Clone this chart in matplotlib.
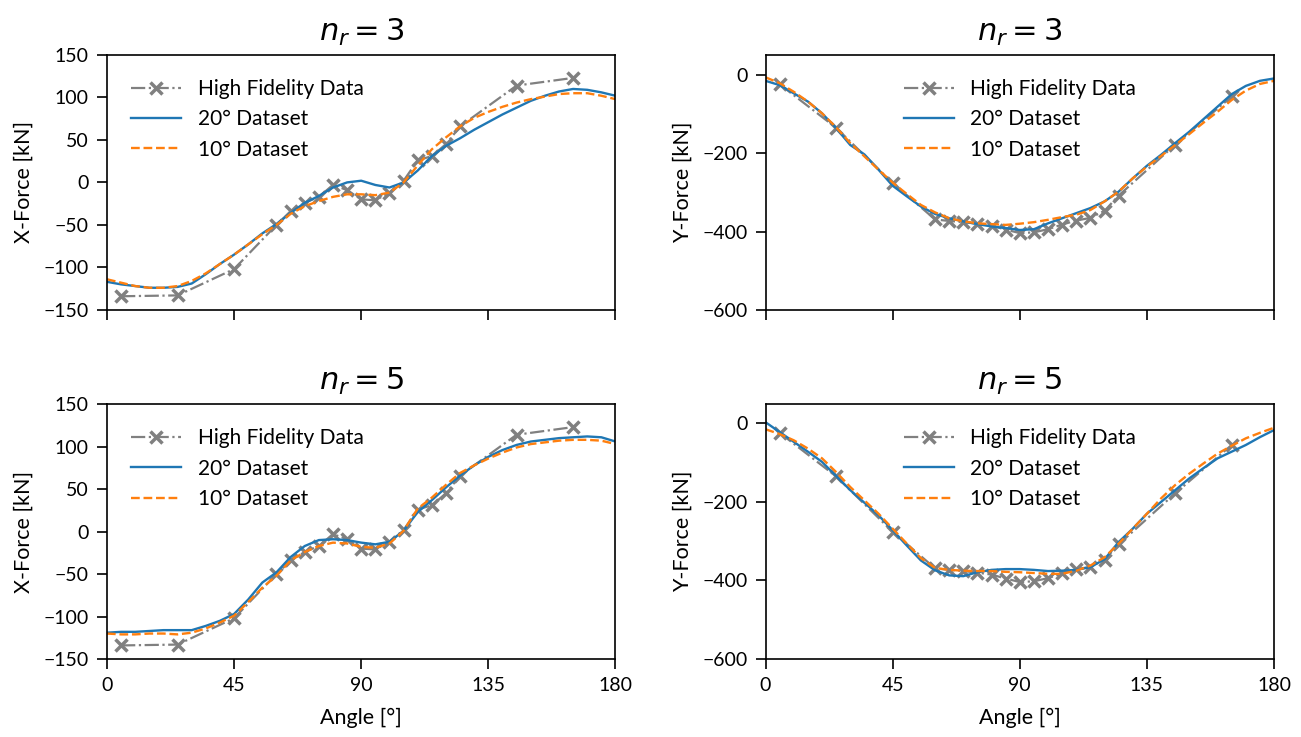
import numpy as np
import matplotlib
matplotlib.use("Agg")
import matplotlib.pyplot as plt

plt.rcParams['font.family'] = ['Lato', 'DejaVu Sans']
plt.rcParams['mathtext.fontset'] = 'dejavusans'

# High fidelity sample angles and values
hf_angle = [5, 25, 45, 60, 65, 70, 75, 80, 85, 90, 95, 100, 105, 110, 115, 120, 125, 145, 165]
hf_x = [-134, -133, -102, -50, -34, -24, -17, -3, -9, -20, -21, -12, 2, 26, 31, 45, 66, 114, 123]
hf_y = [-24, -135, -276, -369, -373, -376, -380, -385, -395, -404, -402, -394, -382, -372, -365, -347, -308, -178, -55]

# Model curve angles (every 5 degrees)
ang = list(range(0, 181, 5))

# n_r = 3
x3_20 = [-117, -120, -122, -124, -124, -123, -119, -108, -96, -85, -73, -60, -49, -36, -24, -16,
         -6, 0, 2, -3, -6, 0, 14, 31, 43, 52, 62, 71, 80, 88, 96, 102, 107, 110, 109, 106, 102]
x3_10 = [-114, -118, -122, -124, -124, -122, -116, -107, -96, -85, -73, -61, -50, -37, -28, -22,
         -17, -14, -14, -15, -12, 0, 20, 39, 53, 66, 76, 83, 89, 94, 98, 101, 104, 105, 105, 102, 98]
y3_20 = [-15, -26, -47, -68, -98, -136, -179, -203, -242, -283, -310, -336, -355, -366, -374,
         -381, -387, -391, -396, -394, -379, -366, -353, -340, -323, -298, -264, -232, -204,
         -174, -145, -113, -81, -49, -28, -15, -9]
y3_10 = [-6, -21, -43, -68, -98, -134, -174, -208, -242, -275, -304, -332, -351, -366, -374, -379,
         -381, -383, -380, -376, -370, -363, -357, -345, -323, -298, -264, -234, -207, -179, -151,
         -122, -94, -64, -40, -23, -15]

# n_r = 5
x5_20 = [-119, -118, -118, -117, -116, -116, -116, -111, -105, -97, -80, -60, -48, -30, -17, -10,
         -9, -10, -13, -15, -12, 1, 23, 37, 52, 66, 78, 88, 96, 102, 106, 108, 110, 111, 112, 111,
         106]
x5_10 = [-120, -121, -121, -120, -120, -121, -119, -114, -107, -99, -83, -66, -52, -34, -24, -17,
         -13, -14, -18, -19, -14, 1, 27, 40, 55, 69, 78, 86, 93, 99, 103, 105, 107, 108, 108, 107,
         103]
y5_20 = [3, -22, -47, -72, -98, -134, -170, -202, -234, -272, -311, -349, -374, -387, -389, -379,
         -373, -371, -371, -373, -376, -375, -373, -366, -346, -302, -268, -230, -200, -170, -140,
         -114, -89, -72, -55, -35, -17]
y5_10 = [-15, -27, -43, -64, -89, -124, -162, -196, -230, -268, -306, -343, -368, -373, -375, -376,
         -376, -378, -379, -381, -383, -383, -375, -362, -341, -306, -268, -230, -191, -157, -128,
         -102, -77, -57, -38, -24, -11]

titles = [r'$n_r = 3$', r'$n_r = 5$']
xtick_vals = [0, 45, 90, 135, 180]

fig, axes = plt.subplots(2, 2, figsize=(13.01, 7.37), dpi=100)
fig.subplots_adjust(left=0.0822, right=0.9793, top=0.9254, bottom=0.1058, wspace=0.295, hspace=0.37)

gray = '#808080'
blue = '#1f77b4'
orange = '#ff7f0e'

panels = [
    (axes[0, 0], hf_x, x3_20, x3_10, 'X-Force [kN]', (-150, 150), [-150, -100, -50, 0, 50, 100, 150], 'upper left', titles[0]),
    (axes[0, 1], hf_y, y3_20, y3_10, 'Y-Force [kN]', (-600, 51), [-600, -400, -200, 0], 'upper center', titles[0]),
    (axes[1, 0], hf_x, x5_20, x5_10, 'X-Force [kN]', (-150, 150), [-150, -100, -50, 0, 50, 100, 150], 'upper left', titles[1]),
    (axes[1, 1], hf_y, y5_20, y5_10, 'Y-Force [kN]', (-600, 49), [-600, -400, -200, 0], 'upper center', titles[1]),
]

for i, (ax, hf, c20, c10, ylab, ylim, yt, loc, ttl) in enumerate(panels):
    ax.plot(hf_angle, hf, color=gray, linestyle='-.', marker='x', markersize=9,
            markeredgewidth=2.5, linewidth=1.6, label='High Fidelity Data')
    ax.plot(ang, c20, color=blue, linewidth=1.7, label='20° Dataset')
    ax.plot(ang, c10, color=orange, linestyle='--', linewidth=1.7, label='10° Dataset')
    ax.set_xlim(0, 180)
    ax.set_ylim(*ylim)
    ax.set_yticks(yt)
    ax.set_xticks(xtick_vals)
    ax.set_ylabel(ylab, fontsize=15.5, labelpad=7)
    ax.set_title(ttl, fontsize=22, pad=10)
    ax.tick_params(labelsize=14, length=7, width=1.2, pad=6)
    for s in ax.spines.values():
        s.set_linewidth(1.2)
    if i >= 2:
        ax.set_xlabel('Angle [°]', fontsize=15.5, labelpad=10)
    else:
        ax.set_xticklabels([])
    ax.legend(loc=loc, frameon=False, fontsize=15, handlelength=2.4, borderaxespad=0.75)

fig.savefig('out.png', dpi=100)
